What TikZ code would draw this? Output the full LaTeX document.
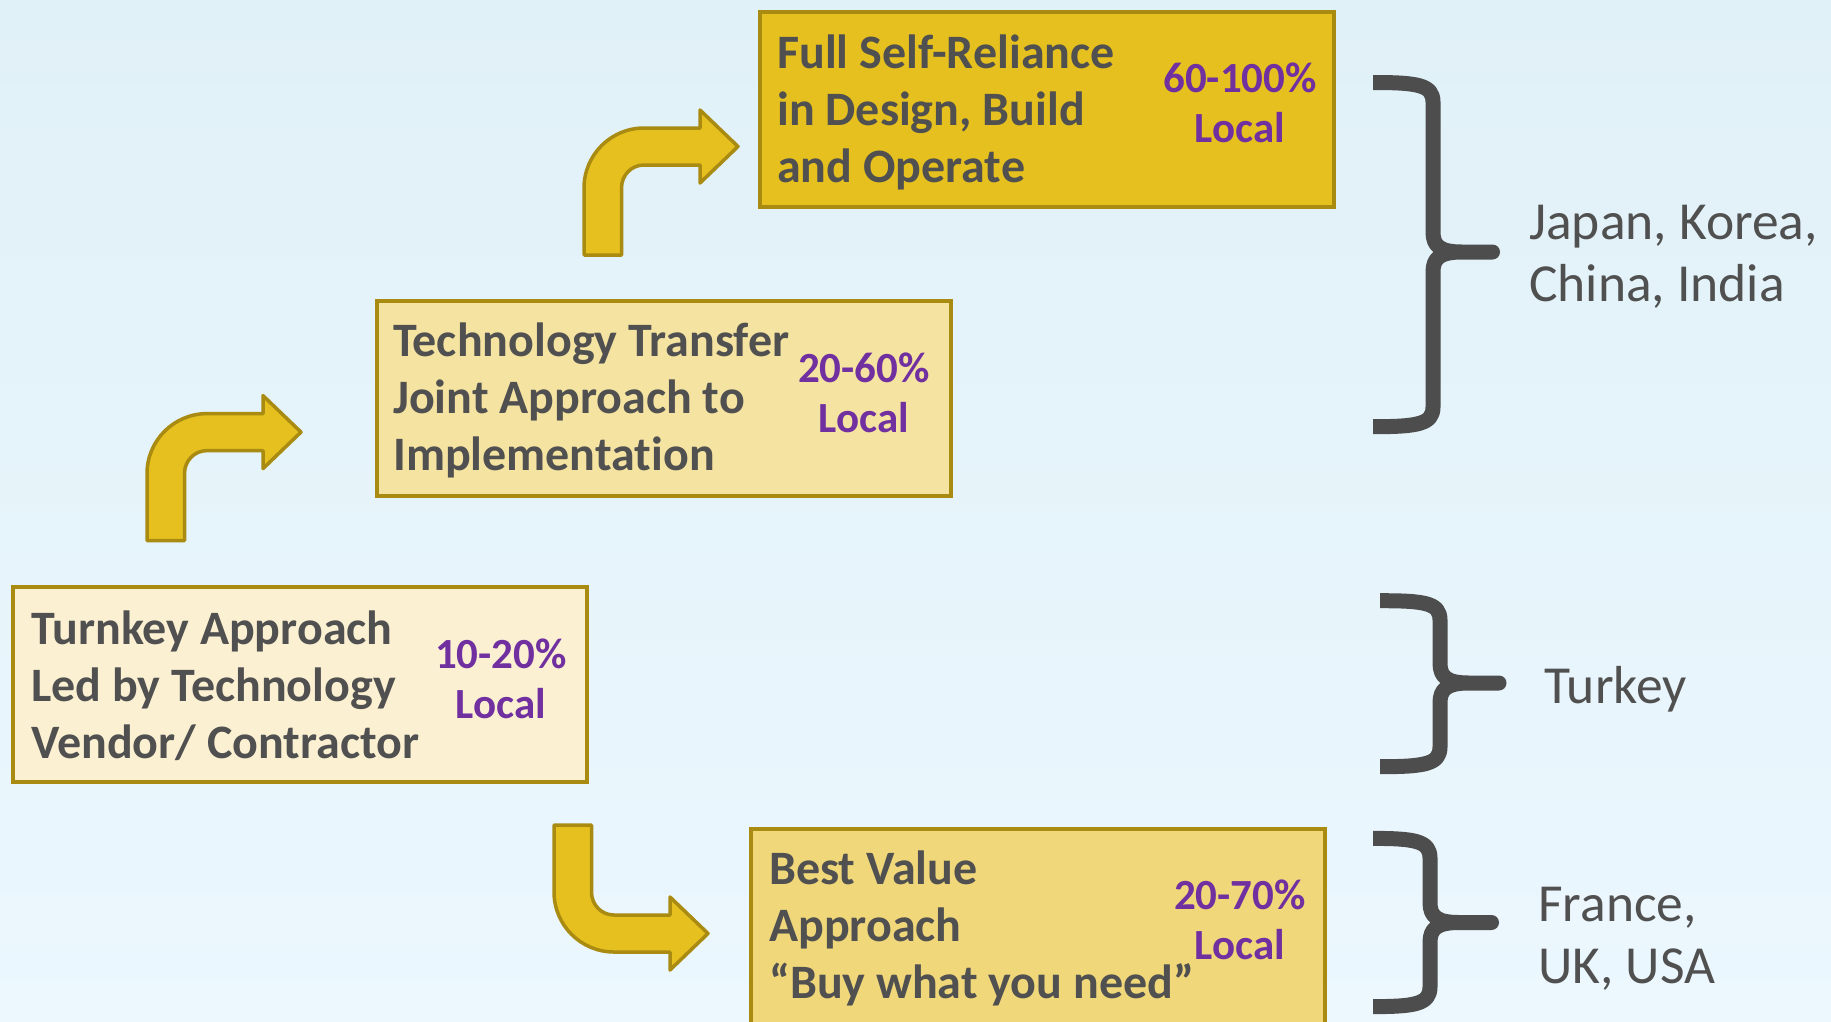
\documentclass[tikz,border=0pt]{standalone}
\usepackage{fontspec}
\setmainfont{Carlito}[Ligatures={TeX,NoCommon}]

\definecolor{bgtop}{HTML}{E0F1F7}
\definecolor{bgbot}{HTML}{ECF7FE}
\definecolor{rim}{HTML}{A98B12}
\definecolor{gold}{HTML}{E5C01E}
\definecolor{paleA}{HTML}{FBF1D2}
\definecolor{paleB}{HTML}{F5E3A1}
\definecolor{paleC}{HTML}{F0D77A}
\definecolor{ink}{HTML}{505050}
\definecolor{share}{HTML}{7030A0}
\definecolor{bracegrey}{HTML}{4D4D4D}

\tikzset{
  stagebox/.style={draw=rim, line width=4pt, minimum width=574pt, minimum height=195pt,
    inner sep=0pt, anchor=north west},
  stagetext/.style={anchor=west, align=left, text=ink, inner sep=0pt,
    font=\fontsize{48}{57}\selectfont\bfseries},
  sharetext/.style={align=center, text=share, inner sep=0pt,
    font=\fontsize{43}{50}\selectfont\bfseries},
  countrytext/.style={anchor=west, align=left, text=ink, inner sep=0pt,
    font=\fontsize{53.5}{62}\selectfont},
  bracestroke/.style={draw=bracegrey, line width=15pt, line cap=butt, line join=round},
  bendfill/.style={fill=gold, draw=rim, line width=3.5pt, line join=round},
  % block arrow: up from the origin, bending right
  bentarrow/.pic={
    \path[bendfill] (0,0) -- (0,-67)
      .. controls (0,-100.1) and (26.9,-127) .. (60,-127)
      -- (116,-127) -- (116,-145) -- (154,-108.5) -- (116,-72) -- (116,-90)
      -- (60,-90) .. controls (47.3,-90) and (37.5,-79.7) .. (37.5,-67)
      -- (37.5,0) -- cycle;
  }
}

\begin{document}
\begin{tikzpicture}[x=1pt,y=-1pt]
  \useasboundingbox (0,0) rectangle (1831,1021);
  \shade[top color=bgtop, bottom color=bgbot] (0,0) rectangle (1831,1021);

  % stage boxes
  \node[stagebox, fill=paleA] (turnkey)  at (11,584.5) {};
  \node[stagebox, fill=paleB] (transfer) at (374.5,298.5) {};
  \node[stagebox, fill=gold]  (self)     at (758,10) {};
  \node[stagebox, fill=paleC] (value)    at (748.5,827) {};

  % stage descriptions
  \node[stagetext] (turnkeyText)  at (31,686)  {Turnkey Approach\\Led by Technology\\Vendor/ Contractor};
  \node[sharetext] (turnkeyShare) at (501,679) {10-20\%\\Local};

  \node[stagetext] (transferText)  at (393,400) {Technology Transfer\\Joint Approach to\\Implementation};
  \node[sharetext] (transferShare) at (864,393) {20-60\%\\Local};

  \node[stagetext] (selfText)  at (777,112)  {Full Self-Reliance\\in Design, Build\\and Operate};
  \node[sharetext] (selfShare) at (1240,103) {60-100\%\\Local};

  \node[stagetext] (valueText)  at (769,928)    {Best Value\\Approach\\“Buy what you need”};
  \node[sharetext] (valueShare) at (1240,919.5) {20-70\%\\Local};

  % progression arrows
  \pic at (147,540.6) {bentarrow};
  \pic at (584,255) {bentarrow};
  \pic[yscale=-1] at (554,825) {bentarrow};

  % braces
  \path[bracestroke] (1373,82.5) .. controls (1418,82.5) and (1433,85) .. (1433,102)
    -- (1433,232) .. controls (1433,246) and (1440,252) .. (1462,252)
    -- (1492.5,252) -- (1462,252)
    .. controls (1440,252) and (1433,258) .. (1433,272)
    -- (1433,407) .. controls (1433,424) and (1418,426.7) .. (1373,426.7);

  \path[bracestroke] (1380,600.7) .. controls (1425,600.7) and (1440,603) .. (1440,620)
    -- (1440,663) .. controls (1440,677) and (1447,683) .. (1469,683)
    -- (1499,683) -- (1469,683)
    .. controls (1447,683) and (1440,689) .. (1440,703)
    -- (1440,747) .. controls (1440,764) and (1425,766.7) .. (1380,766.7);

  \path[bracestroke] (1373,838.4) .. controls (1415,838.4) and (1430,841) .. (1430,858)
    -- (1430,902.5) .. controls (1430,916.5) and (1437,922.5) .. (1459,922.5)
    -- (1491.5,922.5) -- (1459,922.5)
    .. controls (1437,922.5) and (1430,928.5) .. (1430,942.5)
    -- (1430,987) .. controls (1430,1004) and (1415,1006.6) .. (1373,1006.6);

  % countries
  \node[countrytext] (asia)   at (1529,257) {Japan, Korea,\\China, India};
  \node[countrytext] (turkey) at (1544,689) {Turkey};
  \node[countrytext] (west)   at (1538,939) {France,\\UK, USA};
\end{tikzpicture}
\end{document}
